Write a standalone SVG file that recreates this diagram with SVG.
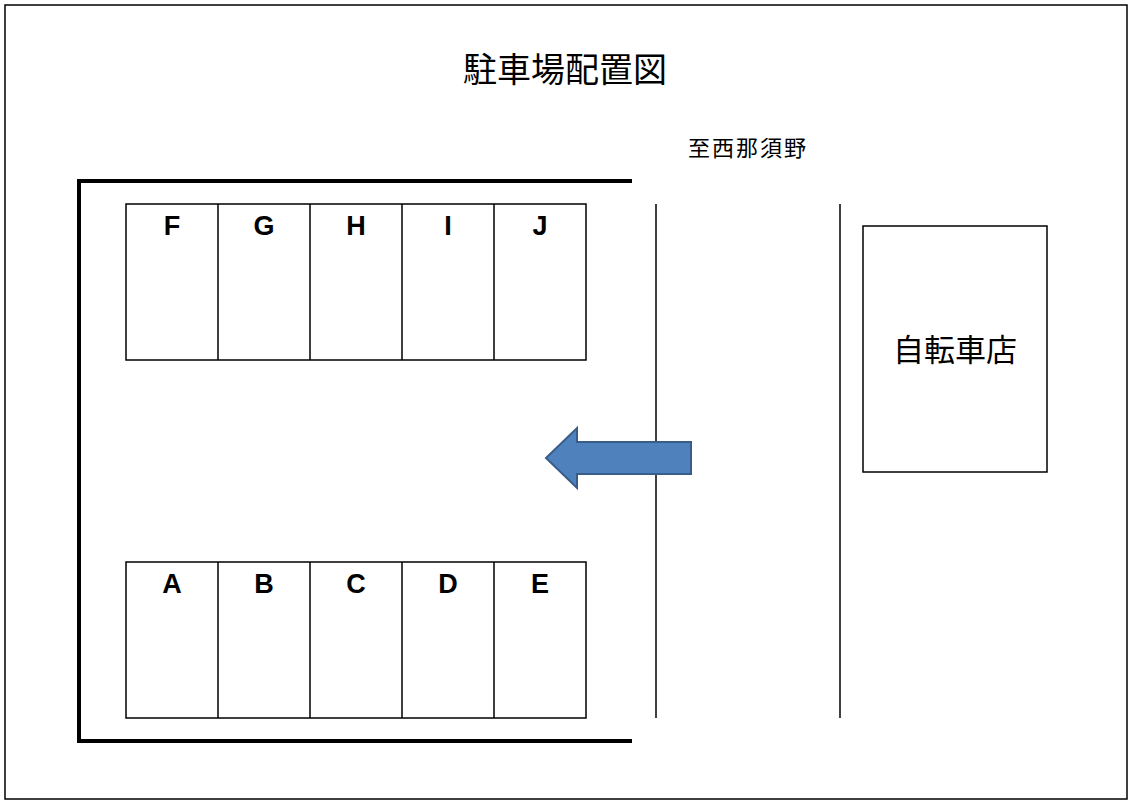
<svg xmlns="http://www.w3.org/2000/svg" width="1133" height="806" viewBox="0 0 1133 806">
<style>
.t{font-family:"Noto Sans CJK JP","Liberation Sans",sans-serif;fill:#000;text-anchor:middle}
.l{font-family:"Liberation Sans",Arial,sans-serif;font-size:27px;font-weight:bold;fill:#000;text-anchor:middle}
.s{fill:none;stroke:#000;stroke-width:1.5}
</style>
<rect width="1133" height="806" fill="#fff"/>
<rect x="5" y="5" width="1122" height="794" fill="none" stroke="#000" stroke-width="1.5"/>
<text class="t" x="565" y="82" font-size="34">駐車場配置図</text>
<text class="t" x="748" y="156" font-size="22" letter-spacing="2">至西那須野</text>
<g id="fence"><path d="M632,181 H79 V741 H632" fill="none" stroke="#000" stroke-width="4"/></g>
<g id="stalls-top">
<rect class="s" x="126" y="204" width="460" height="156"/>
<path class="s" d="M218,204V360M310,204V360M402,204V360M494,204V360"/>
<text class="l" x="172" y="235">F</text><text class="l" x="264" y="235">G</text><text class="l" x="356" y="235">H</text><text class="l" x="448" y="235">I</text><text class="l" x="540" y="235">J</text>
</g>
<g id="stalls-bottom">
<rect class="s" x="126" y="562" width="460" height="156"/>
<path class="s" d="M218,562V718M310,562V718M402,562V718M494,562V718"/>
<text class="l" x="172" y="593">A</text><text class="l" x="264" y="593">B</text><text class="l" x="356" y="593">C</text><text class="l" x="448" y="593">D</text><text class="l" x="540" y="593">E</text>
</g>
<g id="road"><path class="s" d="M656,204V718M840,204V718"/></g>
<g id="shop"><rect class="s" x="863" y="226" width="184" height="246"/><text class="t" x="955" y="361" font-size="31">自転車店</text></g>
<g id="connectors"><path d="M546,458 L577,428 V442 H691 V474 H577 V488 Z" fill="#4f81bd" stroke="#385d8a" stroke-width="2"/></g>
</svg>
